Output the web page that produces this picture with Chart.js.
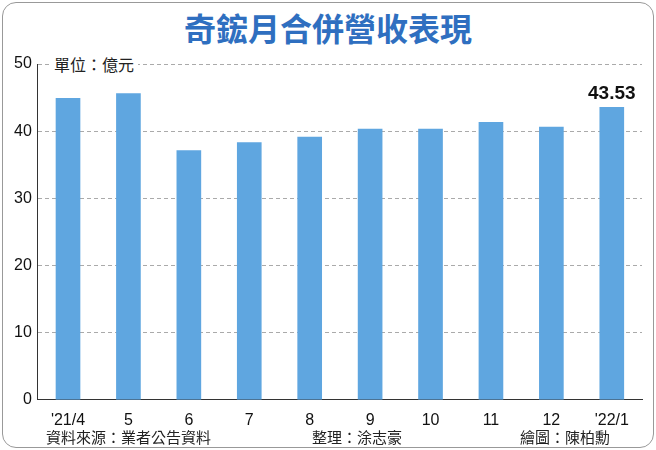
<!DOCTYPE html>
<html><head><meta charset="utf-8">
<script src="https://cdn.jsdelivr.net/npm/chart.js@4"></script>
<style>
body{margin:0;background:#fff;font-family:"Noto Sans CJK TC",sans-serif;}
#frame{position:absolute;left:2px;top:2px;width:650px;height:444px;border:1px solid #999;border-radius:14px;overflow:hidden;}
#title{position:absolute;left:0;width:656px;top:4px;text-align:center;font-size:32px;font-weight:bold;color:#2f6fc0;}
#unit{position:absolute;left:50px;top:52px;font-size:16px;color:#222;background:#fff;padding:0 4px;}
.foot{position:absolute;top:426px;font-size:15px;color:#222;}
#wrap{position:absolute;left:0;top:40px;width:656px;height:393px;}
</style></head><body>
<div id="frame"></div>
<div id="title">奇鋐月合併營收表現</div>
<div id="wrap"><canvas id="c"></canvas></div>
<div id="unit">單位：億元</div>
<div class="foot" style="left:46px">資料來源：業者公告資料</div>
<div class="foot" style="left:312px">整理：涂志豪</div>
<div class="foot" style="left:520px">繪圖：陳柏勳</div>
<script>
const categories=["'21/4","5","6","7","8","9","10","11","12","'22/1"];
const revenue=[44.9,45.6,37.1,38.3,39.1,40.3,40.3,41.3,40.6,43.53];
const yTicks=[0,10,20,30,40,50];
const labelPlugin={id:'lbl',afterDatasetsDraw(ch){const m=ch.getDatasetMeta(0).data;const i=revenue.length-1;const ctx=ch.ctx;ctx.save();ctx.font='bold 19px Liberation Sans, Arial';ctx.fillStyle='#111';ctx.textAlign='center';ctx.fillText(revenue[i].toFixed(2),m[i].x,m[i].y-8);ctx.restore();}};
new Chart(document.getElementById('c'),{type:'bar',
data:{labels:categories,datasets:[{data:revenue,backgroundColor:'#5fa6e0',barThickness:24}]},
options:{responsive:true,maintainAspectRatio:false,animation:false,
layout:{padding:{top:24,right:14,left:8,bottom:0}},
plugins:{legend:{display:false},tooltip:{enabled:false}},
scales:{x:{grid:{display:false},border:{color:'#333'},ticks:{color:'#111',font:{size:16,family:'Liberation Sans'}}},
y:{min:0,max:50,afterBuildTicks(a){a.ticks=yTicks.map(v=>({value:v}));},
grid:{color:'#aaa',drawTicks:false},border:{color:'#333',dash:[4,3]},
ticks:{color:'#111',padding:6,font:{size:16,family:'Liberation Sans'}}}}},
plugins:[labelPlugin]});
</script>
</body></html>
